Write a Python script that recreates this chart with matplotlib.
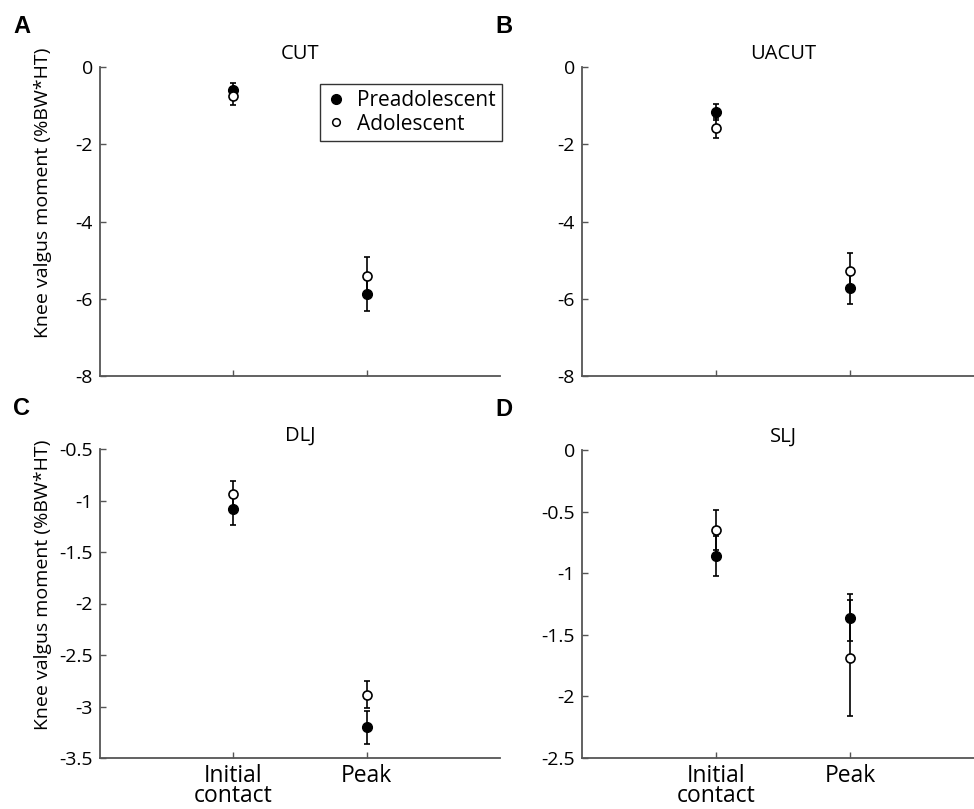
#knee valgus moment at initial contact and peak, preadolescent vs adolescent

#import necessary
import matplotlib
matplotlib.use('Agg')
from matplotlib import pyplot as plt
from matplotlib.lines import Line2D
from matplotlib.ticker import FormatStrFormatter
import numpy as np

#data
phases = ['Initial\ncontact', 'Peak']
tasks = ['CUT', 'UACUT', 'DLJ', 'SLJ']
letters = ['A', 'B', 'C', 'D']

pre_cut = [-0.59, -5.88]
pre_cut_err = [0.18, 0.43]
ado_cut = [-0.75, -5.40]
ado_cut_err = [0.24, 0.49]

pre_uacut = [-1.17, -5.72]
pre_uacut_err = [0.20, 0.41]
ado_uacut = [-1.57, -5.27]
ado_uacut_err = [0.26, 0.46]

pre_dlj = [-1.08, -3.20]
pre_dlj_err = [0.16, 0.16]
ado_dlj = [-0.94, -2.885]
ado_dlj_err = [0.13, 0.13]

pre_slj = [-0.86, -1.36]
pre_slj_err = [0.16, 0.19]
ado_slj = [-0.65, -1.69]
ado_slj_err = [0.16, 0.47]

yticks = [np.arange(-8, 0.1, 2), np.arange(-8, 0.1, 2),
          np.arange(-3.5, -0.45, 0.5), np.arange(-2.5, 0.05, 0.5)]
ylims = [(-8, 0), (-8, 0), (-3.5, -0.5), (-2.5, 0)]

pre = [pre_cut, pre_uacut, pre_dlj, pre_slj]
pre_err = [pre_cut_err, pre_uacut_err, pre_dlj_err, pre_slj_err]
ado = [ado_cut, ado_uacut, ado_dlj, ado_slj]
ado_err = [ado_cut_err, ado_uacut_err, ado_dlj_err, ado_slj_err]

plt.rcParams.update({'font.size': 14, 'font.family': ['Open Sans', 'DejaVu Sans'],
                     'axes.unicode_minus': False})
W, H = 974, 809
fig = plt.figure(figsize=(W/100, H/100), dpi=100)

#axes boxes in pixels: left, top, right, bottom
boxes = [(100, 67, 500, 376), (582, 67, 984, 376),
         (100, 449, 500, 758), (582, 450, 984, 758)]
x = np.arange(1, len(phases)+1)
axcol = '#555555'

for i in range(4):
    l, t, r, b = boxes[i]
    ax = fig.add_axes([l/W, 1-b/H, (r-l)/W, (b-t)/H])
    ax.errorbar(x, pre[i], yerr=pre_err[i], fmt='o', color='k', mfc='k', mec='k',
                ms=7, elinewidth=1.2, capsize=2, capthick=1.2, zorder=3)
    ax.errorbar(x, ado[i], yerr=ado_err[i], fmt='o', color='k', mfc='white', mec='k',
                ms=6.5, mew=1.2, elinewidth=1.2, capsize=2, capthick=1.2, zorder=4)
    ax.set_xlim(0, 3)
    ax.set_ylim(*ylims[i])
    ax.set_yticks(yticks[i])
    ax.yaxis.set_major_formatter(FormatStrFormatter('%g'))
    ax.set_xticks(x)
    if i >= 2:
        ax.set_xticklabels(phases, linespacing=0.8, fontsize=16.5)
    else:
        ax.set_xticklabels([])
    for s in ['top', 'right']:
        ax.spines[s].set_visible(False)
    for s in ['left', 'bottom']:
        ax.spines[s].set_color(axcol)
        ax.spines[s].set_linewidth(1.3)
    ax.tick_params(direction='in', length=4, color=axcol, width=1, pad=5)
    ax.tick_params(axis='x', pad=4)
    ax.set_title(tasks[i], fontsize=14.5, pad=6)
    if i == 0:
        handles = [Line2D([], [], ls='none', marker='o', mfc='k', mec='k', ms=7),
                   Line2D([], [], ls='none', marker='o', mfc='white', mec='k', ms=5.5, mew=1.1)]
        leg = ax.legend(handles, ['Preadolescent', 'Adolescent'], loc='upper right',
                        bbox_to_anchor=(1.005, 0.945), borderaxespad=0,
                        fancybox=False, edgecolor='k', handletextpad=0.5, handlelength=1.0,
                        borderpad=0.3, labelspacing=0.12, fontsize=15)
        leg.get_frame().set_linewidth(1.0)
    fig.text((l-87)/W, 1-(t-52)/H, letters[i], fontsize=17, fontweight='bold',
             family='Liberation Sans', ha='left', va='top')

#shared y labels on the left panels
fig.text(43/W, 1-193/H, 'Knee valgus moment (%BW*HT)', rotation=90, ha='center', va='center', fontsize=14)
fig.text(43/W, 1-585/H, 'Knee valgus moment (%BW*HT)', rotation=90, ha='center', va='center', fontsize=14)

fig.savefig('out.png', dpi=100)
